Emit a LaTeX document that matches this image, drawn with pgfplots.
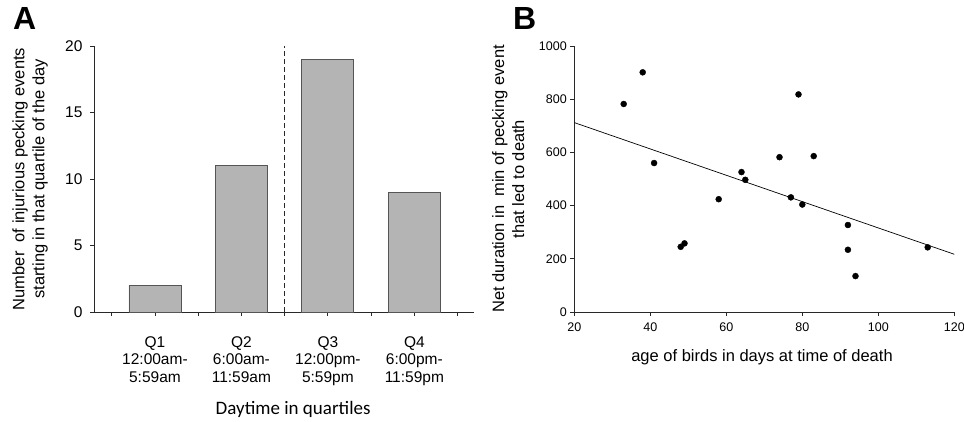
\documentclass[border=0pt]{standalone}
\usepackage{fontspec}
\setmainfont{Liberation Sans}
\newfontfamily\carlito{Carlito}
\usepackage{pgfplots}
\pgfplotsset{compat=1.18}
\definecolor{bargray}{RGB}{180,180,180}
\definecolor{edgegray}{RGB}{85,85,85}
\definecolor{axgray}{RGB}{40,40,40}
\begin{document}
\begin{tikzpicture}[x=1pt,y=1pt]
\useasboundingbox (0,0) rectangle (964,422);
\node[anchor=north west, inner sep=0pt, font=\fontsize{32}{32}\selectfont\bfseries] at (13,415) {A};
\node[anchor=north west, inner sep=0pt, font=\fontsize{32}{32}\selectfont\bfseries] at (513,415) {B};
\begin{axis}[
  at={(94pt,110pt)}, anchor=south west, scale only axis,
  width=380pt, height=266pt,
  xmin=-0.705, xmax=3.69, ymin=0, ymax=20,
  axis lines*=left,
  axis line style={axgray, line width=0.9pt, -},
  xtick={0,1,2,3},
  xticklabels={{Q1\\12:00am-\\5:59am},{Q2\\6:00am-\\11:59am},{Q3\\12:00pm-\\5:59pm},{Q4\\6:00pm-\\11:59pm}},
  minor xtick={-0.5,0.5,1.5,2.5,3.5},
  ytick={0,5,10,15,20},
  tick align=outside,
  tick style={axgray, line width=0.8pt},
  major tick length=4pt, minor tick length=4pt,
  /pgf/number format/assume math mode=true,
  xticklabel style={align=center, font=\fontsize{15.5}{17.5}\selectfont, yshift=-17pt},
  yticklabel style={font=\fontsize{15.5}{15.5}\selectfont, xshift=-4pt},
  ylabel={Number~ of injurious pecking events\\starting in that quartile of the day},
  ylabel style={align=center, font=\fontsize{16.5}{20}\selectfont, at={(axis description cs:-0.168,0.5)}, anchor=center},
  xlabel={Daytime in quartiles},
  xlabel style={at={(axis description cs:0.524,-0.368)}, anchor=center, font=\carlito\fontsize{19}{19}\selectfont},
  clip=false,
]
\addplot[ybar, bar width=52pt, fill=bargray, draw=edgegray, line width=0.9pt] coordinates {(0,2) (1,11) (2,19) (3,9)};
\addplot[axgray, line width=0.8pt, dash pattern=on 5pt off 3pt] coordinates {(1.5,0) (1.5,20)};
\end{axis}
\begin{axis}[
  at={(574.3pt,110pt)}, anchor=south west, scale only axis,
  width=380pt, height=266pt,
  xmin=20, xmax=120, ymin=0, ymax=1000,
  axis lines*=left,
  axis line style={axgray, line width=0.9pt, -},
  xtick={20,40,...,120},
  ytick={0,200,...,1000},
  tick align=outside,
  tick style={axgray, line width=0.8pt},
  major tick length=4pt,
  /pgf/number format/assume math mode=true,
  /pgf/number format/1000 sep={},
  xticklabel style={font=\fontsize{12.5}{12.5}\selectfont, yshift=-3pt},
  yticklabel style={font=\fontsize{12.5}{12.5}\selectfont},
  ylabel={Net duration in~ min of pecking event\\that led to death},
  ylabel style={align=center, font=\fontsize{16.5}{20}\selectfont, at={(axis description cs:-0.174,0.5)}, anchor=center},
  xlabel={age of birds in days at time of death},
  xlabel style={at={(axis description cs:0.494,-0.169)}, anchor=center, font=\fontsize{16.5}{16.5}\selectfont},
]
\addplot[only marks, mark=*, mark size=3pt, black] coordinates {
(33,782) (38,901) (41,560) (48,245) (49,258) (58,424) (64,526) (65,497)
(74,582) (77,431) (79,818) (80,404) (83,586) (92,327) (92,234) (94,135) (113,243)};
\addplot[black, line width=0.7pt] coordinates {(20,712) (120,217)};
\end{axis}
\end{tikzpicture}
\end{document}
